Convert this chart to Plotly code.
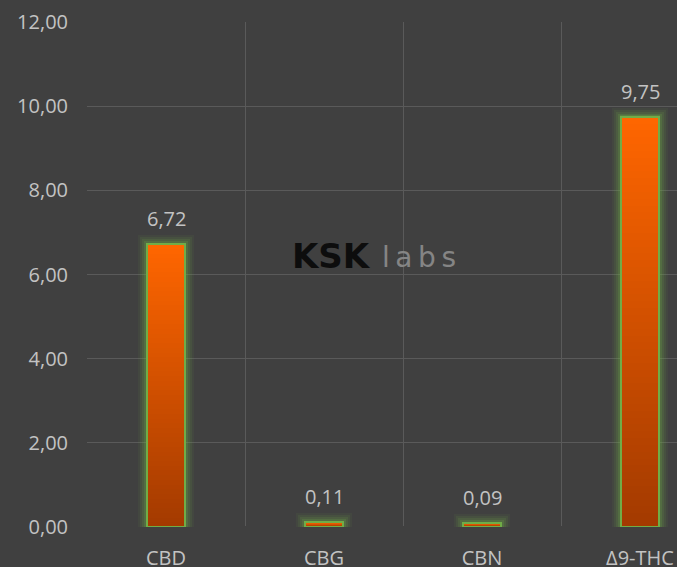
import plotly.graph_objects as go

categories = ["CBD", "CBG", "CBN", "Δ9-THC"]
values = [6.72, 0.11, 0.09, 9.75]
y_ticks = [0, 2, 4, 6, 8, 10, 12]

BG = "#404040"
GRID = "#5a5a5a"
TXT = "#c3c3c3"
FONT = "Open Sans"
TOP = (255, 102, 0)
BOTTOM = (163, 58, 0)
BORDER = "#70ad47"
BAR_W = 0.24
PX = 1 / 158.0

fig = go.Figure()

# soft glow layers behind bars
for extra, alpha in [(9, 0.07), (7, 0.10), (5, 0.14), (3, 0.20), (1.5, 0.28)]:
    dy = extra / 42.08
    fig.add_trace(go.Bar(
        x=categories, y=[v + 2 * dy for v in values], base=[-dy] * len(values),
        width=BAR_W + 2 * extra * PX,
        marker=dict(color=f"rgba(112,173,71,{alpha})", line=dict(width=0)),
        hoverinfo="skip", showlegend=False,
    ))

# vertical gradient via cumulative overlay bars
N = 60
for k in range(N):
    frac = (N - k) / N
    t = (N - k - 0.5) / N
    c = tuple(round(BOTTOM[j] + (TOP[j] - BOTTOM[j]) * t) for j in range(3))
    fig.add_trace(go.Bar(
        x=categories, y=[v * frac for v in values], width=BAR_W,
        marker=dict(color=f"rgb{c}", line=dict(width=0)),
        hoverinfo="skip", showlegend=False,
    ))

# border
fig.add_trace(go.Bar(
    x=categories, y=values, width=BAR_W,
    marker=dict(color="rgba(0,0,0,0)", line=dict(color=BORDER, width=2)),
    showlegend=False,
))

for c, v in zip(categories, values):
    fig.add_annotation(
        x=c, y=v, xref="x", yref="y", text=f"{v:.2f}".replace(".", ","),
        showarrow=False, yanchor="bottom", yshift=10,
        font=dict(family=FONT, size=20, color=TXT),
    )

# watermark
fig.add_annotation(x=0.4136, y=0.537, xref="paper", yref="paper", text="<b>KSK</b>",
                   showarrow=False,
                   font=dict(family="DejaVu Sans", size=34, color="#0d0d0d"))
fig.add_annotation(x=0.563, y=0.533, xref="paper", yref="paper",
                   text="l\u2009a\u2009b\u2009s",
                   showarrow=False,
                   font=dict(family="DejaVu Sans", size=28, color="#858585"))

fig.update_layout(
    width=677, height=567,
    margin=dict(l=87, r=0, t=22, b=40),
    paper_bgcolor=BG, plot_bgcolor=BG,
    barmode="overlay", bargap=0,
    separators=",.",
    showlegend=False,
    xaxis=dict(
        type="category", categoryorder="array", categoryarray=categories,
        range=[-0.5, 3.5 - 42 / 158], tickson="boundaries",
        showgrid=True, gridcolor=GRID, gridwidth=1.2, ticks="", showline=False,
        zeroline=False, automargin=False, ticklabelstandoff=17,
        tickfont=dict(family=FONT, size=20, color=TXT),
    ),
    yaxis=dict(
        range=[0, 12], tickvals=y_ticks, tickformat=".2f",
        showgrid=True, gridcolor=GRID, gridwidth=1.2,
        zeroline=True, zerolinecolor=BG, zerolinewidth=1.5,
        ticks="", showline=False, automargin=False, ticklabelstandoff=18,
        tickfont=dict(family=FONT, size=20, color=TXT),
    ),
)

fig.write_html(
    "out.html",
    config={"displayModeBar": False},
    post_script="document.body.style.margin='0';document.body.style.overflow='hidden';",
)
